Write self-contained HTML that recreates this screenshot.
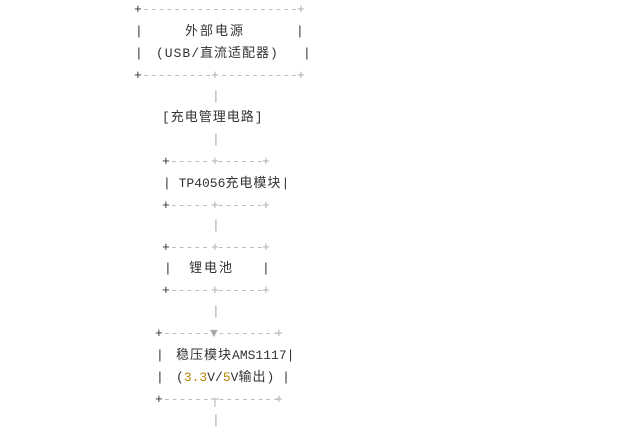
<!DOCTYPE html>
<html><head><meta charset="utf-8"><style>
body{margin:0;width:641px;height:429px;background:#fff;position:relative;overflow:hidden;font-family:"Liberation Mono","Noto Sans CJK SC",monospace;font-size:13px;color:#333}
#w{position:absolute;left:0;top:2px;width:641px;height:429px}
span{position:absolute;line-height:16px;white-space:pre}
.g{color:#aaa}
.d{color:#bbb;overflow:hidden}
.y{color:#b8860b}
.c{letter-spacing:2px}
.c1{letter-spacing:1px}
</style></head><body><div id="w">
<span style="left:134px;top:0px">+</span>
<span class="d" style="left:142px;top:0px;width:154px">----------------------------------</span>
<span class="g" style="left:297px;top:0px">+</span>
<span style="left:135px;top:22px">|</span>
<span class="c" style="left:185px;top:22px">外部电源</span>
<span style="left:296px;top:22px">|</span>
<span style="left:135px;top:44px">|</span>
<span class="c1" style="left:156px;top:44px">(USB/直流适配器)</span>
<span style="left:303px;top:44px">|</span>
<span style="left:134px;top:66px">+</span>
<span class="d" style="left:142px;top:66px;width:154px">----------------------------------</span>
<span class="g" style="left:211px;top:66px;background:#fff">+</span>
<span class="g" style="left:297px;top:66px">+</span>
<span class="g" style="left:212px;top:87px">|</span>
<span class="c1" style="left:162px;top:108px">[充电管理电路]</span>
<span class="g" style="left:212px;top:130px">|</span>
<span style="left:162px;top:152px">+</span>
<span class="d" style="left:170px;top:152px;width:94px">-------------------</span>
<span class="g" style="left:211px;top:152px;background:#fff">+</span>
<span class="g" style="left:262px;top:152px">+</span>
<span style="left:163px;top:174px">| TP4056<span class="c1" style="position:static">充电模块</span>|</span>
<span style="left:162px;top:196px">+</span>
<span class="d" style="left:170px;top:196px;width:94px">-------------------</span>
<span class="g" style="left:211px;top:196px;background:#fff">+</span>
<span class="g" style="left:262px;top:196px">+</span>
<span class="g" style="left:212px;top:216px">|</span>
<span style="left:162px;top:238px">+</span>
<span class="d" style="left:170px;top:238px;width:94px">-------------------</span>
<span class="g" style="left:211px;top:238px;background:#fff">+</span>
<span class="g" style="left:262px;top:238px">+</span>
<span style="left:164px;top:259px">|</span>
<span class="c" style="left:189px;top:259px">锂电池</span>
<span style="left:262px;top:259px">|</span>
<span style="left:162px;top:281px">+</span>
<span class="d" style="left:170px;top:281px;width:94px">-------------------</span>
<span class="g" style="left:211px;top:281px;background:#fff">+</span>
<span class="g" style="left:262px;top:281px">+</span>
<span class="g" style="left:212px;top:302px">|</span>
<span style="left:155px;top:324px">+</span>
<span class="d" style="left:163px;top:324px;width:114px">------------------------</span>
<span class="g" style="left:210px;top:324px;background:#fff">▼</span>
<span class="g" style="left:275px;top:324px">+</span>
<span style="left:156px;top:346px">|</span>
<span style="left:176px;top:346px"><span class="c1" style="position:static">稳压模块</span>AMS1117|</span>
<span style="left:156px;top:368px">|</span>
<span style="left:176px;top:368px">(<span class="y" style="position:static">3.3</span>V/<span class="y" style="position:static">5</span>V<span class="c1" style="position:static">输出</span>) |</span>
<span style="left:155px;top:390px">+</span>
<span class="d" style="left:163px;top:390px;width:114px">------------------------</span>
<span class="g" style="left:211px;top:390px;background:#fff">┬</span>
<span class="g" style="left:275px;top:390px">+</span>
<span class="g" style="left:212px;top:411px">|</span>
</div></body></html>
